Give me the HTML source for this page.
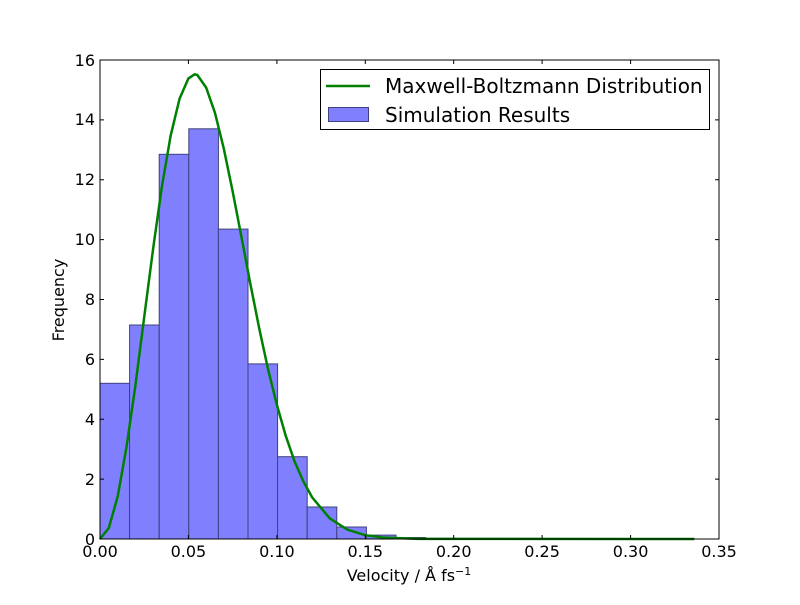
<!DOCTYPE html>
<html><head><meta charset="utf-8"><style>body{margin:0;background:#fff}</style></head><body>
<svg width="800" height="600" xmlns="http://www.w3.org/2000/svg" font-family="DejaVu Sans, Liberation Sans, sans-serif">
<rect width="800" height="600" fill="#fff"/>
<g fill="#8080ff" stroke="#40407f" stroke-width="1">
<rect x="100" y="383.3" width="29.6" height="155.7"/>
<rect x="129.6" y="325" width="29.6" height="214"/>
<rect x="159.2" y="154.3" width="29.6" height="384.7"/>
<rect x="188.8" y="128.8" width="29.6" height="410.2"/>
<rect x="218.4" y="229.1" width="29.6" height="309.9"/>
<rect x="248" y="363.9" width="29.6" height="175.1"/>
<rect x="277.6" y="456.7" width="29.6" height="82.3"/>
<rect x="307.2" y="507" width="29.6" height="32"/>
<rect x="336.8" y="527" width="29.6" height="12"/>
<rect x="366.4" y="535.1" width="29.6" height="3.9"/>
<rect x="396" y="537.5" width="29.6" height="1.5"/>
<rect x="425.6" y="538.4" width="29.6" height="0.6"/>
<rect x="455.2" y="538.7" width="29.6" height="0.3"/>
</g>
<polyline fill="none" stroke="#008000" stroke-width="2.5" points="100,539 108.8,528 117.7,496.5 126.5,447.1 135.4,385.4 144.2,317.1 153.1,248.9 161.9,186.6 170.7,135.4 179.6,98.6 188.4,78.5 194.6,74.3 197.3,75 206.1,87.5 215,113 223.8,148.6 232.6,191.1 241.5,237.2 250.3,283.6 259.2,328.2 268,369 276.9,404.9 285.7,435.7 294.5,461.2 303.4,481.5 312.2,497.4 329.9,518.6 347.6,529.7 365.3,535.2 383,537.5 418.3,538.85 694.3,539"/>
<rect x="100" y="60" width="619" height="479" fill="none" stroke="#000" stroke-width="1"/>
<g stroke="#000" stroke-width="1">
<path d="M100,539v-4M100,60v4M188.4,539v-4M188.4,60v4M276.9,539v-4M276.9,60v4M365.3,539v-4M365.3,60v4M453.7,539v-4M453.7,60v4M542.1,539v-4M542.1,60v4M630.6,539v-4M630.6,60v4M719,539v-4M719,60v4"/>
<path d="M100,539h4M719,539h-4M100,479.1h4M719,479.1h-4M100,419.3h4M719,419.3h-4M100,359.4h4M719,359.4h-4M100,299.5h4M719,299.5h-4M100,239.6h4M719,239.6h-4M100,179.8h4M719,179.8h-4M100,119.9h4M719,119.9h-4M100,60h4M719,60h-4"/>
</g>
<g font-size="16" text-anchor="middle" fill="#000">
<text x="100" y="557">0.00</text><text x="188.4" y="557">0.05</text><text x="276.9" y="557">0.10</text><text x="365.3" y="557">0.15</text><text x="453.7" y="557">0.20</text><text x="542.1" y="557">0.25</text><text x="630.6" y="557">0.30</text><text x="719" y="557">0.35</text>
</g>
<g font-size="16" text-anchor="end" fill="#000">
<text x="95" y="545">0</text><text x="95" y="485">2</text><text x="95" y="425">4</text><text x="95" y="365">6</text><text x="95" y="305">8</text><text x="95" y="245">10</text><text x="95" y="185">12</text><text x="95" y="125">14</text><text x="95" y="66">16</text>
</g>
<text x="409" y="581" font-size="16" text-anchor="middle">Velocity / Å fs<tspan font-size="11" dy="-6">−1</tspan></text>
<text transform="translate(64,300) rotate(-90)" font-size="16" text-anchor="middle">Frequency</text>
<rect x="320.5" y="69.5" width="389" height="60" fill="#fff" stroke="#000"/>
<line x1="326" y1="86" x2="370" y2="86" stroke="#008000" stroke-width="2.5"/>
<text x="385" y="93" font-size="20">Maxwell-Boltzmann Distribution</text>
<rect x="328.5" y="107.5" width="40" height="14" fill="#8080ff" stroke="#40407f"/>
<text x="385" y="122" font-size="20">Simulation Results</text>
</svg>
</body></html>
